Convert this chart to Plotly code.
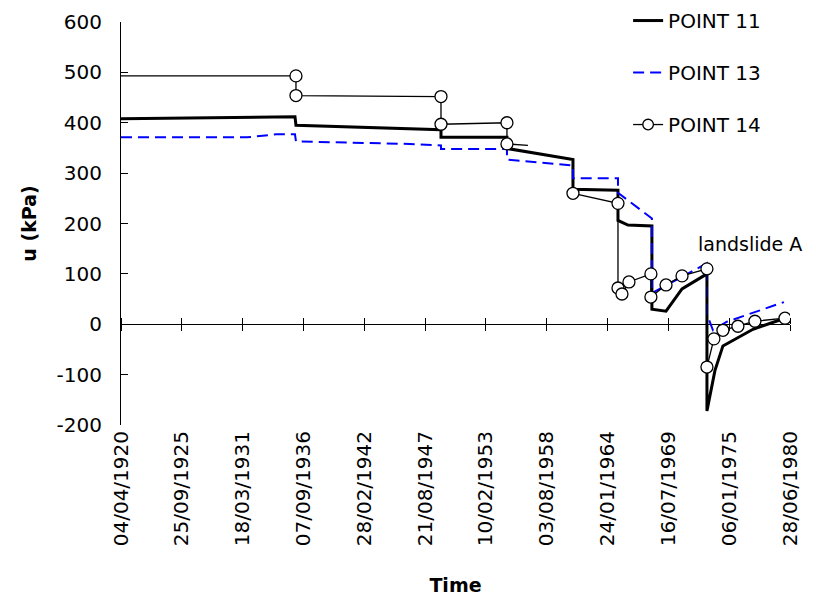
import plotly.graph_objects as go

# ---------------- data ----------------
p11_dates = ["1920-04-04", "1935-12-03", "1936-01-05", "1949-01-25", "1949-01-25",
             "1955-01-03", "1955-01-03", "1960-12-13", "1960-12-13", "1965-01-01",
             "1965-01-01", "1965-11-25", "1968-01-22", "1968-01-22", "1969-04-30",
             "1970-10-08", "1973-01-05", "1973-01-05", "1973-09-24", "1974-06-14",
             "1977-02-27", "1980-01-15"]
p11_vals = [408, 412, 395, 386, 371,
            371, 349, 327, 268, 266,
            206, 197, 195, 30, 26,
            70, 100, -172, -92, -43,
            -10, 12]

p13_dates = ["1920-04-04", "1931-08-07", "1934-04-01", "1935-12-03", "1936-01-05",
             "1946-04-10", "1949-01-25", "1949-01-25", "1955-01-03", "1955-01-03",
             "1960-12-13", "1960-12-13", "1965-01-01", "1965-01-01", "1968-01-22",
             "1968-01-22", "1973-01-05", "1973-01-05", "1973-07-23", "1974-10-23",
             "1979-12-12"]
p13_vals = [371, 371, 377, 377, 363,
            358, 355, 348, 348, 327,
            315, 290, 290, 261, 210,
            62, 121, 20, -12, 5,
            44]

p14_dates = ["1920-04-04", "1936-01-05", "1936-01-05", "1949-01-25", "1949-01-25",
             "1955-01-03", "1955-01-03", "1956-11-24", None, "1960-12-13",
             "1965-01-01", "1965-01-01", "1965-05-12", "1965-12-28", "1967-12-20",
             "1967-12-20", "1969-04-30", "1970-10-08", "1973-01-05", "1973-01-05",
             "1973-08-22", "1974-06-14", "1975-10-20", "1977-05-01", "1980-01-15"]
p14_vals = [493, 493, 454, 452, 397,
            400, 358, 355, None, 260,
            240, 72, 60, 84, 100,
            54, 78, 96, 110, -85,
            -29, -12, -4, 6, 12]
p14_marker_sizes = [0, 12, 12, 12, 12,
                    12, 12, 0, 0, 12,
                    12, 12, 12, 12, 12,
                    12, 12, 12, 12, 12,
                    12, 12, 12, 12, 12]

series_names = ["POINT 11", "POINT 13", "POINT 14"]
x_range = ["1920-04-04", "1980-06-28"]
x_tick0 = "1920-04-04"
x_dtick_days = 2000
y_range = [-200, 600]
y_tickvals = [-200, -100, 0, 100, 200, 300, 400, 500, 600]
y_ticktext = ["-200", "-100", "0", "100", "200", "300", "400", "500", "600"]
annotation_text = "landslide A"
annotation_pos = ("1971-12-31", 159)

FONT = "DejaVu Sans"
DTICK = x_dtick_days * 86400000

fig = go.Figure()

fig.add_trace(go.Scatter(
    x=p11_dates, y=p11_vals, name=series_names[0], mode="lines",
    line=dict(color="black", width=3), legendgroup="a"))
fig.add_trace(go.Scatter(
    x=p13_dates, y=p13_vals, name=series_names[1], mode="lines",
    line=dict(color="#0000FF", width=2, dash="11px,6px"), legendgroup="b"))
fig.add_trace(go.Scatter(
    x=p14_dates, y=p14_vals, name=series_names[2], mode="lines+markers",
    line=dict(color="black", width=1.3),
    marker=dict(symbol="circle", size=p14_marker_sizes, color="#ffffff", opacity=1,
                line=dict(color="black", width=1.3)),
    connectgaps=False, legendgroup="c"))

# invisible helper traces so the crossing-tick axes are drawn
fig.add_trace(go.Scatter(x=[None], y=[None], xaxis="x2", showlegend=False, hoverinfo="skip"))
fig.add_trace(go.Scatter(x=[None], y=[None], xaxis="x3", showlegend=False, hoverinfo="skip"))

fig.add_annotation(x=annotation_pos[0], y=annotation_pos[1], text=annotation_text,
                   showarrow=False, xanchor="left", yanchor="middle",
                   font=dict(family=FONT, size=19, color="black"))

tick_common = dict(type="date", range=x_range, tick0=x_tick0, dtick=DTICK,
                   showgrid=False, zeroline=False, showline=False)

fig.update_layout(
    width=816, height=602,
    margin=dict(l=113, r=34, t=14, b=185, autoexpand=False),
    paper_bgcolor="white", plot_bgcolor="white",
    font=dict(family=FONT, size=20, color="black"),
    xaxis=dict(**tick_common, tickformat="%d/%m/%Y", tickangle=-90, ticks="",
               ticklabelstandoff=1,
               title=dict(text="<b>Time</b>", font=dict(family=FONT, size=19), standoff=33)),
    xaxis2=dict(**tick_common, overlaying="x", anchor="free", position=0.25,
                side="bottom", ticks="outside", ticklen=6, tickcolor="black",
                tickwidth=1, showticklabels=False),
    xaxis3=dict(**tick_common, overlaying="x", anchor="free", position=0.25,
                side="top", ticks="outside", ticklen=6, tickcolor="black",
                tickwidth=1, showticklabels=False),
    yaxis=dict(range=y_range, tickvals=y_tickvals, ticktext=y_ticktext,
               ticks="inside", ticklen=7, tickcolor="black",
               showline=True, linecolor="black", linewidth=1,
               zeroline=True, zerolinecolor="black", zerolinewidth=1,
               showgrid=False, ticklabelstandoff=14,
               title=dict(text="<b>u (kPa)</b>", font=dict(family=FONT, size=19), standoff=14)),
    legend=dict(x=0.758, y=1.052, xanchor="left", yanchor="top",
                bgcolor="rgba(0,0,0,0)", traceorder="grouped", tracegroupgap=23,
                font=dict(family=FONT, size=20)),
    showlegend=True,
)

fig.write_html("out.html")
